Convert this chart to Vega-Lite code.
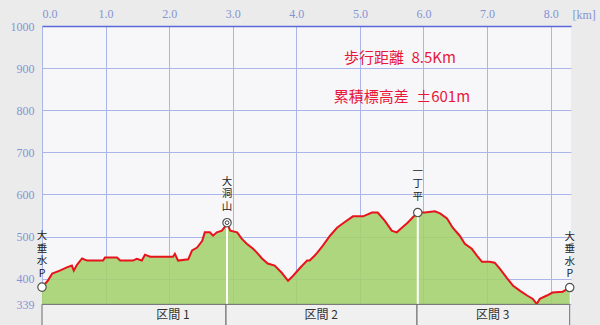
{
  "$schema": "https://vega.github.io/schema/vega-lite/v6.json",
  "autosize": {"type": "none"},
  "width": 529,
  "height": 299,
  "padding": {"left": 42, "top": 26, "right": 29, "bottom": 0},
  "background": "#ebebeb",
  "view": {"fill": "#f7f7f9", "stroke": null},
  "config": {"axis": {"zindex": 0}},
  "datasets": {
    "profile": [
      {"km": 0.00, "elev": 380}, {"km": 0.02, "elev": 383}, {"km": 0.09, "elev": 395}, {"km": 0.16, "elev": 412},
      {"km": 0.28, "elev": 419}, {"km": 0.39, "elev": 427}, {"km": 0.47, "elev": 431}, {"km": 0.50, "elev": 419},
      {"km": 0.55, "elev": 433}, {"km": 0.63, "elev": 448}, {"km": 0.71, "elev": 443}, {"km": 0.96, "elev": 443},
      {"km": 0.99, "elev": 450}, {"km": 1.18, "elev": 450}, {"km": 1.23, "elev": 443}, {"km": 1.43, "elev": 443},
      {"km": 1.49, "elev": 447}, {"km": 1.57, "elev": 443}, {"km": 1.62, "elev": 457}, {"km": 1.70, "elev": 452},
      {"km": 2.06, "elev": 452}, {"km": 2.09, "elev": 459}, {"km": 2.14, "elev": 443}, {"km": 2.30, "elev": 446},
      {"km": 2.36, "elev": 467}, {"km": 2.44, "elev": 474}, {"km": 2.52, "elev": 490}, {"km": 2.56, "elev": 510},
      {"km": 2.64, "elev": 510}, {"km": 2.69, "elev": 502}, {"km": 2.75, "elev": 510}, {"km": 2.83, "elev": 514},
      {"km": 2.88, "elev": 524}, {"km": 2.91, "elev": 533}, {"km": 2.96, "elev": 514}, {"km": 3.07, "elev": 510},
      {"km": 3.14, "elev": 495}, {"km": 3.22, "elev": 483}, {"km": 3.32, "elev": 471}, {"km": 3.38, "elev": 462},
      {"km": 3.46, "elev": 448}, {"km": 3.55, "elev": 436}, {"km": 3.66, "elev": 431}, {"km": 3.77, "elev": 414},
      {"km": 3.87, "elev": 395}, {"km": 3.95, "elev": 407}, {"km": 4.06, "elev": 426}, {"km": 4.17, "elev": 443},
      {"km": 4.21, "elev": 443}, {"km": 4.29, "elev": 455}, {"km": 4.33, "elev": 462}, {"km": 4.42, "elev": 479},
      {"km": 4.53, "elev": 502}, {"km": 4.64, "elev": 521}, {"km": 4.73, "elev": 531}, {"km": 4.89, "elev": 548},
      {"km": 5.05, "elev": 548}, {"km": 5.19, "elev": 557}, {"km": 5.28, "elev": 557}, {"km": 5.39, "elev": 538},
      {"km": 5.50, "elev": 514}, {"km": 5.58, "elev": 510}, {"km": 5.66, "elev": 521}, {"km": 5.75, "elev": 533},
      {"km": 5.86, "elev": 550}, {"km": 5.91, "elev": 557}, {"km": 6.02, "elev": 557}, {"km": 6.18, "elev": 560},
      {"km": 6.26, "elev": 555}, {"km": 6.37, "elev": 543}, {"km": 6.46, "elev": 521}, {"km": 6.57, "elev": 502},
      {"km": 6.65, "elev": 483}, {"km": 6.76, "elev": 471}, {"km": 6.84, "elev": 455}, {"km": 6.92, "elev": 440},
      {"km": 7.04, "elev": 440}, {"km": 7.12, "elev": 438}, {"km": 7.20, "elev": 424}, {"km": 7.31, "elev": 402},
      {"km": 7.41, "elev": 383}, {"km": 7.52, "elev": 371}, {"km": 7.63, "elev": 360}, {"km": 7.72, "elev": 352},
      {"km": 7.78, "elev": 340}, {"km": 7.83, "elev": 352}, {"km": 7.94, "elev": 360}, {"km": 8.03, "elev": 367},
      {"km": 8.19, "elev": 369}, {"km": 8.30, "elev": 379}
    ],
    "points": [
      {"name": "大垂水P", "km": 0.0, "elev": 380, "label": "大\n垂\n水\nP"},
      {"name": "大洞山", "km": 2.91, "elev": 533, "label": "大\n洞\n山"},
      {"name": "一丁平", "km": 5.91, "elev": 557, "label": "一\n丁\n平"},
      {"name": "大垂水P", "km": 8.30, "elev": 379, "label": "大\n垂\n水\nP"}
    ],
    "sections": [
      {"section": "区間 1", "km": 0.0, "km2": 2.894, "mid": 2.06},
      {"section": "区間 2", "km": 2.894, "km2": 5.898, "mid": 4.39},
      {"section": "区間 3", "km": 5.898, "km2": 8.30, "mid": 7.09}
    ],
    "notes": [
      {"text": "歩行距離\u20028.5Km", "km": 5.63, "elev": 924},
      {"text": "累積標高差\u2002±601m", "km": 5.66, "elev": 831}
    ]
  },
  "layer": [
    {
      "data": {"name": "profile"},
      "mark": {"type": "area", "color": "#a4d26c", "opacity": 0.88},
      "encoding": {
        "x": {
          "field": "km", "type": "quantitative",
          "scale": {"domain": [0, 8.32], "nice": false, "zero": false},
          "axis": {
            "orient": "top", "values": [0, 1, 2, 3, 4, 5, 6, 7, 8], "format": ".1f",
            "grid": true, "gridColor": "#aab6ea", "gridWidth": 1,
            "domain": true, "domainColor": "#5a6ad8", "domainWidth": 1.5,
            "ticks": false, "labelPadding": 6,
            "labelColor": "#8494d4", "labelFont": "Liberation Serif", "labelFontSize": 12,
            "title": "[km]", "titleX": 530, "titleY": -12, "titleAngle": 0,
            "titleAlign": "left", "titleBaseline": "middle",
            "titleColor": "#8494d4", "titleFont": "Liberation Serif", "titleFontSize": 12, "titleFontWeight": "normal"
          }
        },
        "y": {
          "field": "elev", "type": "quantitative",
          "scale": {"domain": [290, 1000], "nice": false, "zero": false},
          "axis": {
            "values": [339, 400, 500, 600, 700, 800, 900, 1000], "format": "d",
            "grid": true, "gridColor": "#aab6ea", "gridWidth": 1,
            "domain": false, "ticks": false, "labelPadding": 8,
            "labelColor": "#8494d4", "labelFont": "Liberation Serif", "labelFontSize": 12,
            "title": null
          }
        },
        "y2": {"datum": 339}
      }
    },
    {
      "data": {"name": "profile"},
      "mark": {"type": "line", "color": "#e8141c", "strokeWidth": 2},
      "encoding": {
        "x": {"field": "km", "type": "quantitative"},
        "y": {"field": "elev", "type": "quantitative"}
      }
    },
    {
      "data": {"name": "points"},
      "transform": [{"filter": "datum.name == '大洞山' || datum.name == '一丁平'"}],
      "mark": {"type": "rule", "color": "#ffffff", "strokeWidth": 2},
      "encoding": {
        "x": {"field": "km", "type": "quantitative"},
        "y": {"field": "elev", "type": "quantitative"},
        "y2": {"datum": 339}
      }
    },
    {
      "mark": {"type": "rule", "color": "#5a6ad8", "strokeWidth": 1.5},
      "encoding": {"x": {"datum": 0}, "y": {"datum": 339}, "y2": {"datum": 1000}}
    },
    {
      "mark": {"type": "rule", "color": "#5a6ad8", "strokeWidth": 1.5},
      "encoding": {"x": {"datum": 8.32}, "y": {"datum": 339}, "y2": {"datum": 1000}}
    },
    {
      "data": {"name": "sections"},
      "mark": {"type": "rect", "fill": "#f0f0f0", "stroke": "#6a6a6a", "strokeWidth": 1},
      "encoding": {
        "x": {"field": "km", "type": "quantitative"},
        "x2": {"field": "km2"},
        "y": {"datum": 339},
        "y2": {"datum": 284}
      }
    },
    {
      "data": {"name": "sections"},
      "mark": {"type": "text", "font": "Noto Sans CJK JP", "fontSize": 12, "color": "#333333", "baseline": "middle", "align": "center"},
      "encoding": {
        "x": {"field": "mid", "type": "quantitative"},
        "y": {"datum": 314},
        "text": {"field": "section"}
      }
    },
    {
      "data": {"name": "points"},
      "mark": {"type": "point", "filled": true, "fill": "#ffffff", "stroke": "#505050", "strokeWidth": 1.2, "size": 70, "opacity": 1},
      "encoding": {
        "x": {"field": "km", "type": "quantitative"},
        "y": {"field": "elev", "type": "quantitative"}
      }
    },
    {
      "data": {"name": "points"},
      "transform": [{"filter": "datum.name == '大洞山'"}],
      "mark": {"type": "point", "filled": false, "stroke": "#404040", "strokeWidth": 1, "size": 14, "opacity": 1},
      "encoding": {
        "x": {"field": "km", "type": "quantitative"},
        "y": {"field": "elev", "type": "quantitative"}
      }
    },
    {
      "data": {"name": "points"},
      "transform": [{"filter": "datum.name == '大垂水P'"}],
      "mark": {"type": "text", "font": "Noto Sans CJK JP", "fontSize": 10.5, "lineHeight": 12.5, "lineBreak": "\n", "color": "#222222", "baseline": "top", "align": "center", "dy": -56},
      "encoding": {
        "x": {"field": "km", "type": "quantitative"},
        "y": {"field": "elev", "type": "quantitative"},
        "text": {"field": "label"}
      }
    },
    {
      "data": {"name": "points"},
      "transform": [{"filter": "datum.name != '大垂水P'"}],
      "mark": {"type": "text", "font": "Noto Sans CJK JP", "fontSize": 10.5, "lineHeight": 12.5, "lineBreak": "\n", "color": "#222222", "baseline": "top", "align": "center", "dy": -46},
      "encoding": {
        "x": {"field": "km", "type": "quantitative"},
        "y": {"field": "elev", "type": "quantitative"},
        "text": {"field": "label"}
      }
    },
    {
      "data": {"name": "notes"},
      "mark": {"type": "text", "font": "Noto Sans CJK JP", "fontSize": 15, "color": "#e8173a", "baseline": "middle", "align": "center"},
      "encoding": {
        "x": {"field": "km", "type": "quantitative"},
        "y": {"field": "elev", "type": "quantitative"},
        "text": {"field": "text"}
      }
    }
  ]
}
